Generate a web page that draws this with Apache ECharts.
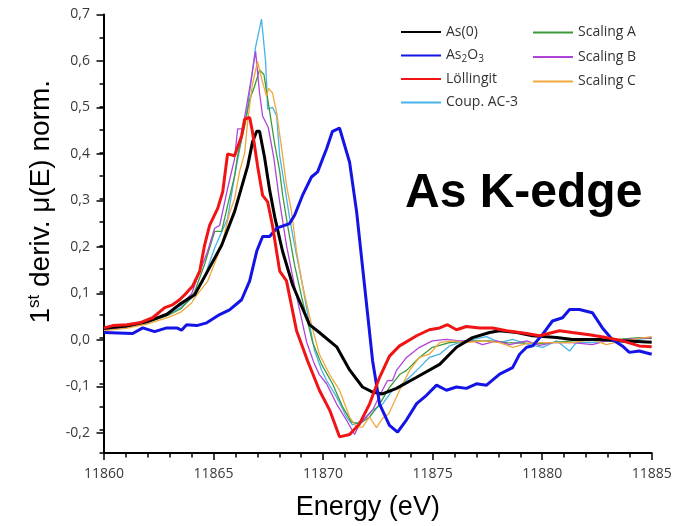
<!DOCTYPE html>
<html><head><meta charset="utf-8">
<script src="https://cdn.jsdelivr.net/npm/echarts@6.0.0/dist/echarts.min.js"></script>
<style>html,body{margin:0;padding:0;background:#fff}#c{width:685px;height:526px}</style>
</head><body><div id="c"></div>
<script>
// Data: [energy (eV), 1st derivative of normalised mu(E)]
const as0 = [[11860,0.02],[11861,0.025],[11862,0.035],[11862.86,0.05],[11863.45,0.072],[11864.14,0.093],[11864.73,0.144],[11865.37,0.2],[11865.96,0.273],[11866.56,0.372],[11866.78,0.424],[11866.97,0.447],[11867.1,0.447],[11867.33,0.39],[11867.56,0.32],[11867.8,0.26],[11868.15,0.187],[11868.61,0.114],[11869.38,0.028],[11869.83,0.011],[11870.62,-0.02],[11871.21,-0.07],[11871.8,-0.107],[11872.26,-0.118],[11872.71,-0.122],[11873.35,-0.11],[11874.27,-0.086],[11875.32,-0.058],[11876.09,-0.021],[11876.82,0.0],[11877.6,0.011],[11878.06,0.015],[11878.84,0.011],[11879.56,0.004],[11880.66,0.0],[11881.38,-0.004],[11882.61,-0.004],[11883.66,-0.007],[11885,-0.01]];
const as2o3 = [[11860,0.011],[11861.31,0.009],[11861.77,0.021],[11862.31,0.013],[11862.86,0.021],[11863.32,0.021],[11863.54,0.016],[11863.77,0.028],[11864.23,0.026],[11864.69,0.032],[11865.28,0.05],[11865.73,0.06],[11866.28,0.082],[11866.65,0.123],[11866.97,0.187],[11867.24,0.219],[11867.56,0.219],[11867.88,0.237],[11868.47,0.247],[11868.7,0.265],[11869.06,0.308],[11869.47,0.348],[11869.75,0.359],[11870.16,0.409],[11870.43,0.447],[11870.75,0.454],[11871.21,0.38],[11871.53,0.273],[11871.89,0.114],[11872.26,-0.05],[11872.58,-0.144],[11873.03,-0.19],[11873.4,-0.205],[11873.81,-0.178],[11874.27,-0.143],[11874.72,-0.125],[11875.18,-0.103],[11875.63,-0.114],[11876.09,-0.107],[11876.54,-0.11],[11877.0,-0.1],[11877.46,-0.103],[11878.06,-0.079],[11878.65,-0.065],[11878.97,-0.036],[11879.29,-0.021],[11879.56,-0.018],[11880.02,0.007],[11880.47,0.036],[11880.93,0.043],[11881.25,0.061],[11881.7,0.061],[11882.29,0.054],[11882.75,0.021],[11883.2,-0.004],[11883.66,-0.018],[11883.98,-0.032],[11884.43,-0.029],[11885,-0.036]];
const loellingit = [[11860,0.021],[11860.4,0.026],[11861.04,0.028],[11861.63,0.032],[11862.22,0.043],[11862.77,0.065],[11863.13,0.071],[11863.45,0.082],[11863.77,0.097],[11864.05,0.112],[11864.37,0.144],[11864.59,0.2],[11864.82,0.243],[11865.19,0.28],[11865.42,0.316],[11865.64,0.398],[11865.96,0.394],[11866.28,0.437],[11866.42,0.473],[11866.65,0.477],[11866.78,0.445],[11867.01,0.372],[11867.24,0.308],[11867.47,0.294],[11867.69,0.243],[11868.02,0.144],[11868.33,0.123],[11868.79,0.015],[11869.29,-0.05],[11869.83,-0.114],[11870.3,-0.157],[11870.75,-0.215],[11871.21,-0.21],[11871.66,-0.187],[11872.12,-0.144],[11872.58,-0.086],[11873.03,-0.04],[11873.49,-0.018],[11874.27,0.004],[11874.85,0.017],[11875.32,0.021],[11875.68,0.028],[11876.09,0.017],[11876.54,0.024],[11877.14,0.021],[11877.74,0.021],[11878.38,0.015],[11879.29,0.009],[11879.88,0.004],[11880.79,0.015],[11881.38,0.011],[11882.15,0.006],[11882.93,0.0],[11883.66,-0.007],[11884.43,-0.018],[11885,-0.02]];
const coupAC3 = [[11860,0.018],[11861,0.022],[11862,0.035],[11863,0.052],[11863.5,0.065],[11864,0.085],[11864.5,0.12],[11865.05,0.194],[11865.64,0.258],[11865.96,0.35],[11866.28,0.43],[11866.56,0.5],[11866.92,0.63],[11867.19,0.69],[11867.38,0.596],[11867.47,0.495],[11867.69,0.499],[11867.88,0.48],[11868.02,0.394],[11868.24,0.33],[11868.47,0.26],[11868.7,0.2],[11869.06,0.114],[11869.3,0.05],[11869.61,-0.028],[11869.93,-0.07],[11870.16,-0.093],[11870.62,-0.129],[11871.07,-0.172],[11871.34,-0.189],[11871.8,-0.179],[11872.26,-0.157],[11872.71,-0.144],[11873.17,-0.114],[11873.49,-0.105],[11873.95,-0.086],[11874.4,-0.065],[11874.85,-0.043],[11875.32,-0.036],[11875.77,-0.018],[11876.22,-0.011],[11876.82,-0.004],[11877.46,0.002],[11878.06,-0.011],[11878.65,-0.004],[11879.42,-0.015],[11880.02,-0.021],[11880.66,-0.007],[11881.25,-0.029],[11881.56,-0.011],[11882.29,-0.011],[11882.93,-0.007],[11883.66,-0.011],[11884.43,-0.004],[11885,0.0]];
const scalingA = [[11860,0.018],[11861,0.022],[11862,0.033],[11863,0.05],[11863.5,0.062],[11864,0.088],[11864.14,0.1],[11864.6,0.16],[11865.05,0.23],[11865.37,0.23],[11865.64,0.286],[11865.96,0.35],[11866.1,0.394],[11866.42,0.458],[11866.65,0.516],[11866.87,0.544],[11867.1,0.58],[11867.3,0.57],[11867.56,0.49],[11867.79,0.42],[11868.02,0.36],[11868.15,0.31],[11868.38,0.243],[11868.7,0.157],[11869.06,0.08],[11869.52,-0.01],[11869.93,-0.058],[11870.43,-0.1],[11870.89,-0.15],[11871.3,-0.183],[11871.66,-0.187],[11872.12,-0.172],[11872.58,-0.144],[11873.0,-0.11],[11873.49,-0.08],[11873.81,-0.071],[11874.4,-0.043],[11874.99,-0.021],[11875.77,-0.011],[11876.82,-0.007],[11877.6,-0.007],[11878.38,-0.011],[11879.88,-0.013],[11881.38,-0.007],[11882.93,-0.006],[11884.43,0.0],[11885,-0.002]];
const scalingB = [[11860,0.017],[11861,0.023],[11862,0.035],[11863,0.055],[11863.5,0.07],[11864,0.095],[11864.14,0.114],[11864.73,0.187],[11865.05,0.237],[11865.28,0.243],[11865.64,0.323],[11865.96,0.387],[11866.1,0.452],[11866.33,0.452],[11866.56,0.516],[11866.74,0.566],[11866.92,0.62],[11867.1,0.53],[11867.24,0.48],[11867.5,0.455],[11867.75,0.39],[11868.0,0.3],[11868.33,0.2],[11868.79,0.09],[11869.25,-0.01],[11869.61,-0.058],[11869.83,-0.08],[11870.16,-0.1],[11870.62,-0.144],[11871.07,-0.179],[11871.3,-0.198],[11871.44,-0.21],[11871.66,-0.187],[11871.98,-0.172],[11872.26,-0.157],[11872.71,-0.114],[11872.94,-0.093],[11873.17,-0.093],[11873.35,-0.071],[11873.81,-0.043],[11874.4,-0.021],[11874.99,-0.007],[11875.63,-0.004],[11876.22,-0.007],[11876.82,-0.007],[11877.28,-0.015],[11877.92,-0.007],[11878.52,-0.015],[11879.29,-0.007],[11879.88,-0.017],[11880.47,-0.011],[11881.38,-0.011],[11882.29,-0.015],[11882.93,-0.007],[11883.84,-0.004],[11885,0.0]];
const scalingC = [[11860,0.015],[11861,0.02],[11862,0.03],[11863,0.045],[11863.5,0.055],[11864,0.075],[11864.14,0.086],[11864.73,0.122],[11865.37,0.2],[11865.73,0.27],[11865.96,0.3],[11866.19,0.36],[11866.42,0.4],[11866.56,0.47],[11866.78,0.55],[11867.01,0.598],[11867.24,0.553],[11867.42,0.523],[11867.51,0.54],[11867.69,0.53],[11867.88,0.488],[11868.11,0.409],[11868.33,0.33],[11868.56,0.273],[11868.79,0.187],[11869.06,0.114],[11869.47,0.028],[11869.83,-0.036],[11870.3,-0.08],[11870.75,-0.114],[11871.21,-0.172],[11871.53,-0.194],[11871.8,-0.194],[11872.12,-0.172],[11872.44,-0.195],[11872.71,-0.175],[11873.0,-0.165],[11873.49,-0.114],[11873.95,-0.071],[11874.4,-0.043],[11874.85,-0.036],[11875.32,-0.011],[11875.9,-0.007],[11876.54,-0.011],[11877.28,-0.007],[11878.06,-0.011],[11878.65,-0.021],[11879.29,-0.013],[11879.88,-0.011],[11881.38,-0.011],[11882.29,-0.004],[11882.93,-0.015],[11883.66,-0.007],[11885,0.002]];

const legendCol1 = ['As(0)', 'As2O3', 'Löllingit', 'Coup. AC-3'];
const legendCol2 = ['Scaling A', 'Scaling B', 'Scaling C'];
const xRange = [11860, 11885];
const yRange = [-0.25, 0.7];
const yLabelRange = [-0.2, 0.7];

const FONT = "'Open Sans', sans-serif";
const ARIAL = "'Liberation Sans', Arial, sans-serif";

function line(name, data, color, width) {
  return {
    name: name, type: 'line', data: data, symbol: 'none', showSymbol: false,
    xAxisIndex: 0, yAxisIndex: 0,
    lineStyle: { color: color, width: width }, itemStyle: { color: color },
    emphasis: { disabled: true }, animation: false
  };
}

const chart = echarts.init(document.getElementById('c'), null, { renderer: 'canvas' });
const top0 = 14.5, bottom0 = 70;
const plotH = 526 - top0 - bottom0;
const bottom1 = 526 - (top0 + plotH * (yLabelRange[1] - yLabelRange[0]) / (yRange[1] - yRange[0]));

const legendBase = {
  orient: 'vertical', itemWidth: 40, itemHeight: 14, padding: 0,
  itemStyle: { opacity: 0, color: 'rgba(0,0,0,0)', borderWidth: 0 },
  formatter: function (n) { return n === 'As2O3' ? 'As{sub|2}O{sub|3}' : n; },
  textStyle: {
    fontFamily: FONT, fontSize: 14, color: '#333', lineHeight: 18,
    rich: { sub: { fontFamily: FONT, fontSize: 10, color: '#333', verticalAlign: 'bottom', lineHeight: 12 } }
  },
  selectedMode: false
};

chart.setOption({
  animation: false,
  backgroundColor: '#fff',
  title: {
    text: 'As K-edge', left: 400, top: 165,
    textStyle: { fontFamily: ARIAL, fontWeight: 'bold', fontSize: 48, color: '#000' }
  },
  legend: [
    Object.assign({}, legendBase, { left: 400, top: 23, itemGap: 5.5, data: legendCol1 }),
    Object.assign({}, legendBase, { left: 532, top: 23.5, itemGap: 6.5, data: legendCol2 })
  ],
  grid: [
    { left: 104, right: 33.3, top: top0, bottom: bottom0 },
    { left: 104, right: 33.3, top: top0, bottom: bottom1 }
  ],
  xAxis: [{
    type: 'value', gridIndex: 0, min: xRange[0], max: xRange[1], interval: 5,
    splitLine: { show: false },
    axisLine: { show: true, onZero: false, lineStyle: { color: '#000', width: 2 } },
    axisTick: { show: true, length: 7, lineStyle: { color: '#000', width: 1.5 } },
    minorTick: { show: true, splitNumber: 5, length: 4.5, lineStyle: { color: '#000', width: 1.5 } },
    axisLabel: { fontFamily: FONT, fontSize: 14, color: '#3a3a3a', margin: 14, formatter: function (v) { return String(v); } },
    name: 'Energy (eV)', nameLocation: 'middle', nameGap: 41,
    nameTextStyle: { fontFamily: ARIAL, fontSize: 27, color: '#000', padding: [0, 20, 0, 0] }
  }, {
    type: 'value', gridIndex: 1, min: xRange[0], max: xRange[1], show: false
  }],
  yAxis: [{
    type: 'value', gridIndex: 0, min: yRange[0], max: yRange[1], interval: 0.05,
    splitLine: { show: false },
    axisLine: { show: true, onZero: false, lineStyle: { color: '#000', width: 2 } },
    axisTick: { show: true, length: 4.5, lineStyle: { color: '#000', width: 1.5 } },
    axisLabel: { show: false },
    name: '1{sup|st} deriv. μ(E) norm.', nameLocation: 'middle', nameRotate: 90, nameGap: 48,
    nameTextStyle: {
      fontFamily: ARIAL, fontSize: 28, color: '#000', lineHeight: 30, padding: [0, 0, 0, 64],
      rich: { sup: { fontFamily: ARIAL, fontSize: 17, color: '#000', verticalAlign: 'top', lineHeight: 18 } }
    }
  }, {
    type: 'value', gridIndex: 1, min: yLabelRange[0], max: yLabelRange[1], interval: 0.1,
    splitLine: { show: false },
    axisLine: { show: false },
    axisTick: { show: true, length: 7.5, lineStyle: { color: '#000', width: 1.5 } },
    axisLabel: {
      fontFamily: FONT, fontSize: 14, color: '#3a3a3a', margin: 14,
      formatter: function (v) { return v.toFixed(1).replace('.', ',').replace('-0,0', '0,0'); }
    }
  }],
  series: [
    line('Coup. AC-3', coupAC3, '#47b2e8', 1.3),
    line('Scaling A', scalingA, '#3b9a3b', 1.3),
    line('Scaling B', scalingB, '#b044d8', 1.3),
    line('Scaling C', scalingC, '#f0a83c', 1.3),
    line('As(0)', as0, '#000000', 3),
    line('As2O3', as2o3, '#1414e6', 3),
    line('Löllingit', loellingit, '#f01414', 3)
  ]
});
</script>
</body></html>
